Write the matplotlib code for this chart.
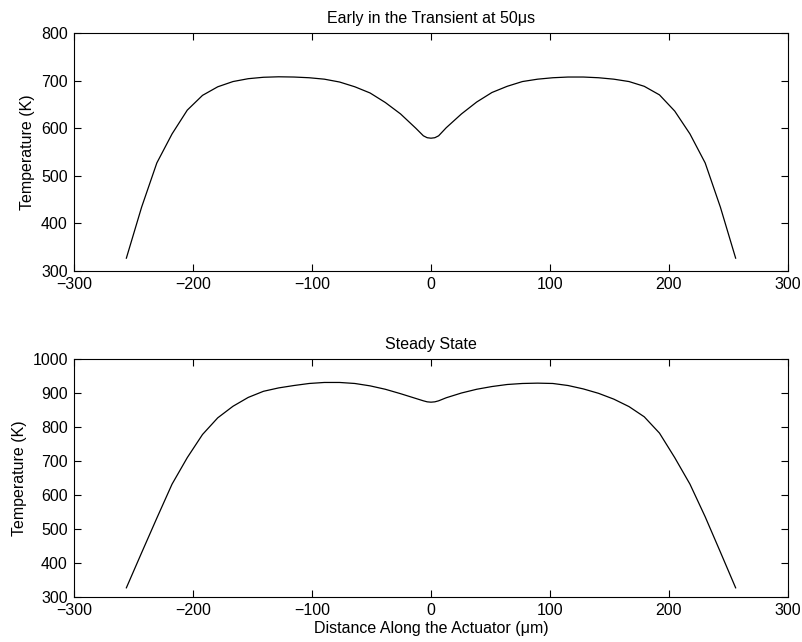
import matplotlib
matplotlib.use("Agg")
import matplotlib.pyplot as plt

plt.rcParams['font.family'] = ['Liberation Sans', 'DejaVu Sans']
plt.rcParams['axes.unicode_minus'] = True

# Distance along the actuator (um)
x = [-256, -243.2, -230.4, -217.6, -204.8, -192, -179.2, -166.4, -153.6, -140.8,
     -128, -115.2, -102.4, -89.6, -76.8, -64, -51.2, -38.4, -25.6, -12.8,
     -6.4, -3.2, 0, 3.2, 6.4,
     12.8, 25.6, 38.4, 51.2, 64, 76.8, 89.6, 102.4, 115.2, 128,
     140.8, 153.6, 166.4, 179.2, 192, 204.8, 217.6, 230.4, 243.2, 256]

# Early in the transient (50 us), temperature (K)
t_early = [327, 434, 527, 588, 638, 669, 687, 698, 704, 707,
           708, 707.5, 706, 703, 697, 687, 674, 654, 630, 600,
           584, 580, 579, 580, 584,
           601, 630, 655, 675, 688, 698, 703, 706, 707.5, 707.5,
           706, 703, 698, 688, 670, 636, 588, 527, 434, 327]

# Steady state, temperature (K)
t_steady = [327, 430, 532, 632, 710, 778, 827, 861, 887, 905,
            915, 922, 928, 931, 931, 928, 921, 911, 898, 884,
            877, 874, 873, 874, 877,
            886, 900, 911, 919, 925, 928, 929, 928, 922, 912,
            899, 882, 860, 830, 782, 710, 632, 536, 432, 327]

xticks = [-300, -200, -100, 0, 100, 200, 300]
yticks_early = [300, 400, 500, 600, 700, 800]
yticks_steady = [300, 400, 500, 600, 700, 800, 900, 1000]

fig = plt.figure(figsize=(8.02, 6.42), dpi=100)
ax1 = fig.add_axes([74/802, 1-271/642, (788-74)/802, (271-33)/642])
ax2 = fig.add_axes([74/802, 1-597/642, (788-74)/802, (597-359)/642])

def style(ax, yt):
    ax.set_xlim(-300, 300)
    ax.set_ylim(yt[0], yt[-1])
    ax.set_xticks(xticks)
    ax.set_yticks(yt)
    ax.tick_params(direction='in', length=5, width=0.8, top=True, right=True,
                   labelsize=11.5, pad=4.5, colors='black')
    for s in ax.spines.values():
        s.set_linewidth(0.8)
    ax.set_ylabel('Temperature (K)', fontsize=11.5, labelpad=4)

ax1.plot(x, t_early, color='black', lw=0.9)
style(ax1, yticks_early)
ax1.set_title('Early in the Transient at 50\u03bcs', fontsize=11.5, pad=7)

ax2.plot(x, t_steady, color='black', lw=0.9)
style(ax2, yticks_steady)
ax2.set_title('Steady State', fontsize=11.5, pad=7)
ax2.set_xlabel('Distance Along the Actuator (\u03bcm)', fontsize=11.5, labelpad=2)

fig.savefig('out.png', dpi=100)
